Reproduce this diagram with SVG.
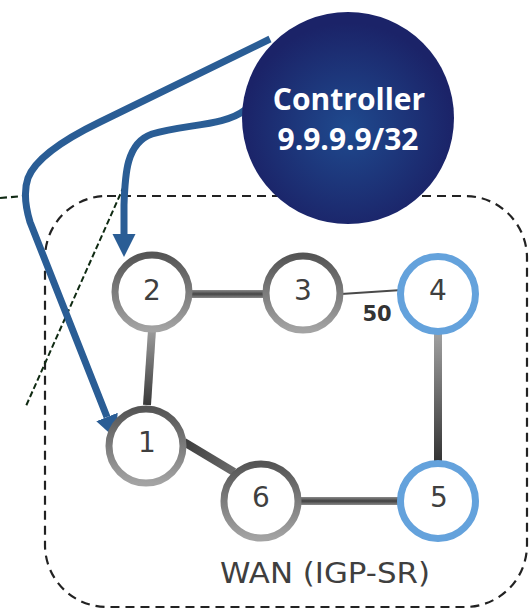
<svg xmlns="http://www.w3.org/2000/svg" width="529" height="609" viewBox="0 0 529 609">
  <style>
    .node-ring { fill: #ffffff; stroke: url(#ringGrad); stroke-width: 7; }
    .node-ring.blue { stroke: #64a2dc; }
    .node-label { font-family: "DejaVu Sans", Verdana, sans-serif; font-size: 28px; fill: #3f3f3f; text-anchor: middle; }
    .link { stroke-width: 8; stroke-linecap: butt; fill: none; }
    .flow { fill: none; stroke: #2a5d95; stroke-width: 7; stroke-linecap: butt; stroke-linejoin: round; }
    .ctl-text { font-family: "Open Sans", "Noto Sans", sans-serif; font-weight: bold; font-size: 30px; fill: #ffffff; text-anchor: middle; }
  </style>
  <defs>
    <linearGradient id="ringGrad" x1="0" y1="0" x2="0" y2="1">
      <stop offset="0" stop-color="#555555"/>
      <stop offset="1" stop-color="#a3a3a3"/>
    </linearGradient>
    <radialGradient id="ctlGrad" cx="0.5" cy="0.55" r="0.5">
      <stop offset="0" stop-color="#1f4a8e"/>
      <stop offset="1" stop-color="#1b2368"/>
    </radialGradient>
    <linearGradient id="hLink23" gradientUnits="userSpaceOnUse" x1="0" y1="290" x2="0" y2="298">
      <stop offset="0" stop-color="#8a8a8a"/>
      <stop offset="0.5" stop-color="#454545"/>
      <stop offset="1" stop-color="#8a8a8a"/>
    </linearGradient>
    <linearGradient id="hLink65" gradientUnits="userSpaceOnUse" x1="0" y1="497" x2="0" y2="505">
      <stop offset="0" stop-color="#8a8a8a"/>
      <stop offset="0.5" stop-color="#404040"/>
      <stop offset="1" stop-color="#8a8a8a"/>
    </linearGradient>
    <linearGradient id="vLink21" gradientUnits="userSpaceOnUse" x1="0" y1="332" x2="0" y2="404">
      <stop offset="0" stop-color="#9a9a9a"/>
      <stop offset="1" stop-color="#3a3a3a"/>
    </linearGradient>
    <linearGradient id="vLink45" gradientUnits="userSpaceOnUse" x1="0" y1="336" x2="0" y2="462">
      <stop offset="0" stop-color="#9e9e9e"/>
      <stop offset="1" stop-color="#333333"/>
    </linearGradient>
    <linearGradient id="dLink16" gradientUnits="userSpaceOnUse" x1="186" y1="443" x2="233" y2="471">
      <stop offset="0" stop-color="#3e3e3e"/>
      <stop offset="1" stop-color="#6a6a6a"/>
    </linearGradient>
    <marker id="arrow" viewBox="0 0 10 10" refX="0" refY="5" markerUnits="userSpaceOnUse" markerWidth="23" markerHeight="24" orient="auto">
      <path d="M0,0 L10,5 L0,10 z" fill="#2a5d95"/>
    </marker>
  </defs>

  <!-- boundary / dashed lines -->
  <g id="wan-boundary">
    <rect x="45" y="196" width="482" height="411" rx="62" ry="62" fill="none" stroke="#222222" stroke-width="2.2" stroke-dasharray="9 6"/>
    <line x1="0" y1="198" x2="30" y2="195.5" stroke="#102a14" stroke-width="2.2" stroke-dasharray="7 4"/>
    <line x1="124" y1="186" x2="26" y2="406" stroke="#0f2a12" stroke-width="2" stroke-dasharray="6 3"/>
    <text x="325" y="583" class="node-label" textLength="210" lengthAdjust="spacingAndGlyphs">WAN (IGP-SR)</text>
  </g>

  <!-- connectors -->
  <g id="connectors">
    <line class="link" x1="190" y1="294" x2="266" y2="294" stroke="url(#hLink23)"/>
    <line x1="341" y1="294" x2="402" y2="290" stroke="#4a4a4a" stroke-width="2"/>
    <text x="377" y="321" font-family="'DejaVu Sans', Verdana, sans-serif" font-weight="bold" font-size="21" fill="#333333" text-anchor="middle">50</text>
    <line class="link" x1="152" y1="330" x2="147" y2="405" stroke="url(#vLink21)"/>
    <line class="link" x1="184" y1="442" x2="234" y2="472" stroke="url(#dLink16)"/>
    <line class="link" x1="300" y1="501" x2="402" y2="501" stroke="url(#hLink65)"/>
    <line class="link" x1="438" y1="334" x2="438" y2="463" stroke="url(#vLink45)"/>
    <path class="flow" d="M270,39 L100,122 Q38,152 28,178 Q22,195 30,222 L107,417" marker-end="url(#arrow)"/>
    <path class="flow" d="M245,110 C225,126 185,124 152,134 C126,143 125,175 124,205 L124,234" marker-end="url(#arrow)"/>
  </g>

  <!-- controller -->
  <g id="controller">
    <circle cx="348" cy="118" r="106" fill="url(#ctlGrad)"/>
    <text x="349" y="110" class="ctl-text">Controller</text>
    <text x="348" y="150" class="ctl-text">9.9.9.9/32</text>
  </g>

  <g id="node-1">
    <circle class="node-ring" cx="146" cy="446" r="37"/>
    <text class="node-label" x="147" y="452">1</text>
  </g>
  <g id="node-2">
    <circle class="node-ring" cx="152" cy="292" r="37"/>
    <text class="node-label" x="152" y="300">2</text>
  </g>
  <g id="node-3">
    <circle class="node-ring" cx="303" cy="293" r="37"/>
    <text class="node-label" x="303" y="300">3</text>
  </g>
  <g id="node-4">
    <circle class="node-ring blue" cx="438" cy="294" r="37.5"/>
    <text class="node-label" x="438" y="300">4</text>
  </g>
  <g id="node-5">
    <circle class="node-ring blue" cx="438" cy="501" r="37.5"/>
    <text class="node-label" x="439" y="507">5</text>
  </g>
  <g id="node-6">
    <circle class="node-ring" cx="261" cy="501" r="37"/>
    <text class="node-label" x="261" y="507">6</text>
  </g>
</svg>
